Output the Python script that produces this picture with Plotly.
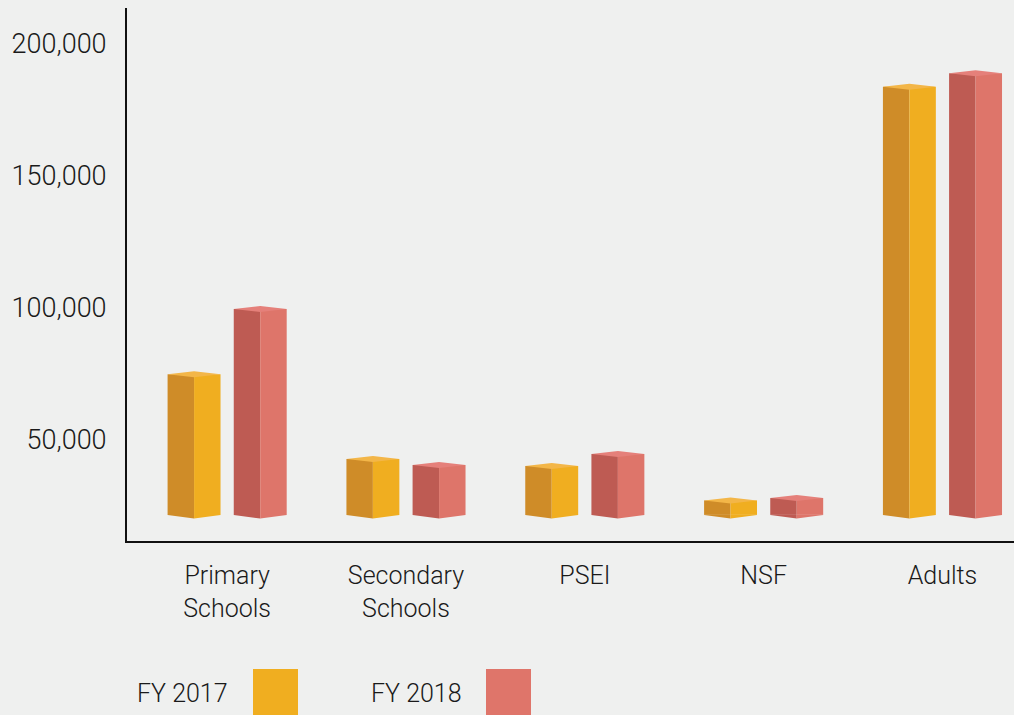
import plotly.graph_objects as go

# ---------------- data ----------------
categories = ["Primary<br>Schools", "Secondary<br>Schools", "PSEI", "NSF", "Adults"]
fy2017 = [74700, 42600, 39900, 26900, 183800]
fy2018 = [99500, 40300, 44500, 27800, 188900]
series_names = ["FY 2017", "FY 2018"]
baseline = 21400          # value at which the drawn bars start
y_ticks = [50000, 100000, 150000, 200000]

# ---------------- style ----------------
W, H = 1014, 715
ML, MR, MT, MB = 127, 0, 8, 174
BG = "#eff0ef"
TXT = "#1a1a1a"
FONT = "Roboto"
colors = {
    "FY 2017": dict(dark="#cf8c28", light="#f0ae20", cap="#f3b648", swatch="#f0ae20"),
    "FY 2018": dict(dark="#be5b53", light="#de756a", cap="#e5807a", swatch="#df756a"),
}
X_RANGE = [-0.56, 4.40]
Y_RANGE = [11500, 213650]
FACE_W = 0.148     # width of one visible face (axis units)
HALF_GAP = 0.037
CAP_D = 1140       # perspective depth of the top face (value units)
BOT_D = 1400       # perspective dip of the bottom edge (value units)

idx = list(range(len(categories)))
fig = go.Figure()

for k, (name, vals) in enumerate(zip(series_names, [fy2017, fy2018])):
    c = colors[name]
    left = -HALF_GAP - 2 * FACE_W if k == 0 else HALF_GAP
    heights = [v - baseline for v in vals]
    # left (shaded) face
    fig.add_trace(go.Bar(x=idx, y=heights, base=baseline, offset=left, width=FACE_W,
                         marker=dict(color=c["dark"], line=dict(width=0)),
                         name=name, showlegend=False, hoverinfo="skip"))
    # right (lit) face
    fig.add_trace(go.Bar(x=idx, y=heights, base=baseline, offset=left + FACE_W, width=FACE_W,
                         marker=dict(color=c["light"], line=dict(width=0)),
                         name=name, showlegend=False,
                         hovertemplate="%{customdata:,}<extra>" + name + "</extra>",
                         customdata=vals))
    # top caps and bottom wedges, computed from the data values
    cx, cy = [], []
    bdx, bdy, blx, bly = [], [], [], []
    for i, v in zip(idx, vals):
        l = i + left
        m = l + FACE_W
        r = m + FACE_W
        cx += [l, m, r, m, l, None]
        cy += [v, v + CAP_D, v, v - CAP_D, v, None]
        bdx += [l, m, m, l, None]
        bdy += [baseline, baseline, baseline - BOT_D, baseline, None]
        blx += [m, r, m, m, None]
        bly += [baseline, baseline, baseline - BOT_D, baseline, None]
    fig.add_trace(go.Scatter(x=cx, y=cy, mode="lines", fill="toself", fillcolor=c["cap"],
                             line=dict(width=0, color=c["cap"]), showlegend=False, hoverinfo="skip"))
    fig.add_trace(go.Scatter(x=bdx, y=bdy, mode="lines", fill="toself", fillcolor=c["dark"],
                             line=dict(width=0, color=c["dark"]), showlegend=False, hoverinfo="skip"))
    fig.add_trace(go.Scatter(x=blx, y=bly, mode="lines", fill="toself", fillcolor=c["light"],
                             line=dict(width=0, color=c["light"]), showlegend=False, hoverinfo="skip"))

# ---------------- legend (text before swatch) ----------------
PW = W - ML - MR
PH = H - MT - MB
def px_x(p):
    return (p - ML) / PW
def px_y(p):
    return (H - MB - p) / PH

legend_items = [("FY 2017", 135, 253), ("FY 2018", 369, 486)]
shapes, annotations = [], []
for name, tx, sx in legend_items:
    annotations.append(dict(text=name, x=px_x(tx), y=px_y(693), xref="paper", yref="paper",
                            xanchor="left", yanchor="middle", showarrow=False,
                            font=dict(family=FONT, size=25, color=TXT, weight=300)))
    shapes.append(dict(type="rect", xref="paper", yref="paper",
                       x0=px_x(sx), x1=px_x(sx + 45), y0=px_y(669), y1=px_y(715),
                       fillcolor=colors[name]["swatch"], line=dict(width=0)))

fig.update_layout(
    width=W, height=H,
    margin=dict(l=ML, r=MR, t=MT, b=MB, pad=0),
    paper_bgcolor=BG, plot_bgcolor=BG,
    barmode="overlay",
    showlegend=False,
    font=dict(family=FONT, color=TXT),
    shapes=shapes, annotations=annotations,
    xaxis=dict(range=X_RANGE, tickvals=idx, ticktext=categories, showgrid=False, zeroline=False,
               showline=True, linecolor="#111111", linewidth=2, ticks="",
               ticklabelstandoff=11, tickfont=dict(family=FONT, size=25, color=TXT, weight=300),
               fixedrange=True),
    yaxis=dict(range=Y_RANGE, tickvals=y_ticks, tickformat=",", showgrid=False, zeroline=False,
               showline=True, linecolor="#111111", linewidth=2, ticks="",
               ticklabelstandoff=13, tickfont=dict(family=FONT, size=27, color=TXT, weight=300),
               fixedrange=True),
)

fig.write_html(
    "out.html",
    config={"displayModeBar": False},
    post_script="document.body.style.margin='0';document.body.style.background='" + BG + "';",
)
